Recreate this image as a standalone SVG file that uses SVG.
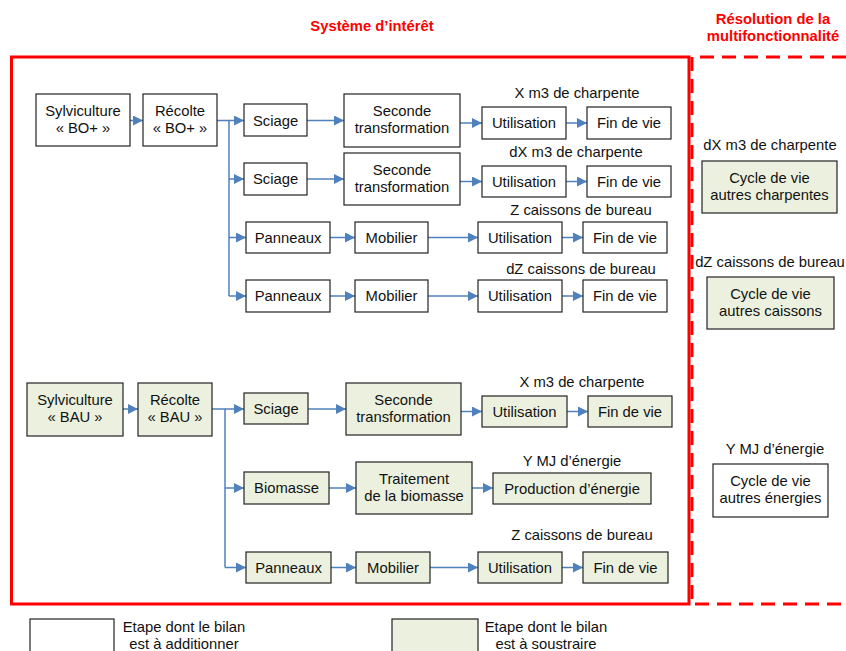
<svg xmlns="http://www.w3.org/2000/svg" width="846" height="651" viewBox="0 0 846 651">
<defs>
<marker id="ah" viewBox="0 0 10 10" refX="10" refY="5" markerWidth="10" markerHeight="10" markerUnits="userSpaceOnUse" orient="auto">
<path d="M0,0 L10,5 L0,10 z" fill="#4F81BD"/>
</marker>
</defs>
<style>
text{font-family:"Liberation Sans",Arial,sans-serif;font-size:14.8px;fill:#111;text-anchor:middle}
.t{font-weight:bold;fill:#FF0000}
.b{fill:#fff;stroke:#222;stroke-width:1.2}
.g{fill:#EBF1DE;stroke:#222;stroke-width:1.2}
.c{fill:none;stroke:#4F81BD;stroke-width:1.5}
.a{fill:none;stroke:#4F81BD;stroke-width:1.5;marker-end:url(#ah)}
</style>
<rect width="846" height="651" fill="#fff"/>
<g id="frames">
<rect x="11.5" y="57" width="677.5" height="547" fill="none" stroke="#FF0000" stroke-width="3"/>
<path d="M846,57 H692 V604 H846" fill="none" stroke="#FF0000" stroke-width="3" stroke-dasharray="14 8"/>
<text class="t" x="372" y="31">Système d’intérêt</text>
<text class="t" x="773" y="23.5">Résolution de la</text>
<text class="t" x="773" y="41">multifonctionnalité</text>
</g>
<g id="connectors">
<path class="a" d="M130,120.5 H143"/>
<path class="c" d="M217,120.5 H229 V296"/>
<path class="a" d="M229,120.5 H244"/>
<path class="a" d="M229,179 H244"/>
<path class="a" d="M229,237.5 H246"/>
<path class="a" d="M229,296 H246"/>
<path class="a" d="M307,120.5 H344"/>
<path class="a" d="M460,123 H482"/>
<path class="a" d="M566,123 H587"/>
<path class="a" d="M307,179 H344"/>
<path class="a" d="M460,181.5 H482"/>
<path class="a" d="M566,181.5 H587"/>
<path class="a" d="M330,237.5 H355"/>
<path class="a" d="M428,237.5 H478"/>
<path class="a" d="M562,237.5 H583"/>
<path class="a" d="M330,296 H355"/>
<path class="a" d="M428,296 H478"/>
<path class="a" d="M562,296 H583"/>
<path class="a" d="M123,409 H138"/>
<path class="c" d="M212,409 H225 V567.5"/>
<path class="a" d="M225,409 H244"/>
<path class="a" d="M225,488 H244"/>
<path class="a" d="M225,567.5 H246"/>
<path class="a" d="M308,409 H346"/>
<path class="a" d="M461,411.5 H482"/>
<path class="a" d="M567,411.5 H588"/>
<path class="a" d="M329,488 H356"/>
<path class="a" d="M472,488 H493"/>
<path class="a" d="M331,567.5 H356"/>
<path class="a" d="M430,567.5 H478"/>
<path class="a" d="M562,567.5 H583"/>
</g>
<g id="n-sylv-bo"><rect class="b" x="36" y="94" width="94" height="52"/><text x="83" y="116">Sylviculture</text><text x="83" y="133">« BO+ »</text></g>
<g id="n-rec-bo"><rect class="b" x="143" y="94" width="74" height="52"/><text x="180" y="116">Récolte</text><text x="180" y="133">« BO+ »</text></g>
<g id="n-sci1"><rect class="b" x="244" y="104" width="63" height="32"/><text x="275.5" y="125.5">Sciage</text></g>
<g id="n-sec1"><rect class="b" x="344" y="94" width="116" height="53"/><text x="402" y="116">Seconde</text><text x="402" y="133">transformation</text></g>
<g id="n-uti1"><text x="577" y="98">X m3 de charpente</text><rect class="b" x="482" y="107" width="84" height="32"/><text x="524" y="128">Utilisation</text></g>
<g id="n-fin1"><rect class="b" x="587" y="107" width="84" height="32"/><text x="629" y="128">Fin de vie</text></g>
<g id="n-sci2"><rect class="b" x="244" y="163" width="63" height="32"/><text x="275.5" y="184">Sciage</text></g>
<g id="n-sec2"><rect class="b" x="344" y="153" width="116" height="52"/><text x="402" y="175">Seconde</text><text x="402" y="192">transformation</text></g>
<g id="n-uti2"><text x="576" y="157">dX m3 de charpente</text><rect class="b" x="482" y="166" width="84" height="31"/><text x="524" y="186.5">Utilisation</text></g>
<g id="n-fin2"><rect class="b" x="587" y="166" width="84" height="31"/><text x="629" y="186.5">Fin de vie</text></g>
<g id="n-pan1"><rect class="b" x="246" y="222" width="84" height="31"/><text x="288" y="242.5">Panneaux</text></g>
<g id="n-mob1"><rect class="b" x="355" y="222" width="73" height="31"/><text x="391.5" y="242.5">Mobilier</text></g>
<g id="n-uti3"><text x="581" y="215">Z caissons de bureau</text><rect class="b" x="478" y="222" width="84" height="31"/><text x="520" y="242.5">Utilisation</text></g>
<g id="n-fin3"><rect class="b" x="583" y="222" width="84" height="31"/><text x="625" y="242.5">Fin de vie</text></g>
<g id="n-pan2"><rect class="b" x="246" y="280" width="84" height="32"/><text x="288" y="301">Panneaux</text></g>
<g id="n-mob2"><rect class="b" x="355" y="280" width="73" height="32"/><text x="391.5" y="301">Mobilier</text></g>
<g id="n-uti4"><text x="581" y="274">dZ caissons de bureau</text><rect class="b" x="478" y="280" width="84" height="32"/><text x="520" y="301">Utilisation</text></g>
<g id="n-fin4"><rect class="b" x="583" y="280" width="84" height="32"/><text x="625" y="301">Fin de vie</text></g>
<g id="n-cv-charp"><text x="770" y="150">dX m3 de charpente</text><rect class="g" x="702" y="161" width="135" height="52"/><text x="769.5" y="183">Cycle de vie</text><text x="769.5" y="200">autres charpentes</text></g>
<g id="n-cv-cais"><text x="770" y="267">dZ caissons de bureau</text><rect class="g" x="707" y="277" width="127" height="52"/><text x="770.5" y="299">Cycle de vie</text><text x="770.5" y="316">autres caissons</text></g>
<g id="n-cv-ener"><text x="775" y="454">Y MJ d’énergie</text><rect class="b" x="713" y="464" width="115" height="53"/><text x="770.5" y="486">Cycle de vie</text><text x="770.5" y="503">autres énergies</text></g>
<g id="n-sylv-bau"><rect class="g" x="27" y="383" width="96" height="53"/><text x="75" y="405">Sylviculture</text><text x="75" y="422">« BAU »</text></g>
<g id="n-rec-bau"><rect class="g" x="138" y="383" width="74" height="53"/><text x="175" y="405">Récolte</text><text x="175" y="422">« BAU »</text></g>
<g id="n-sci3"><rect class="g" x="244" y="393" width="64" height="31"/><text x="276" y="413.5">Sciage</text></g>
<g id="n-sec3"><rect class="g" x="346" y="383" width="115" height="52"/><text x="403.5" y="405">Seconde</text><text x="403.5" y="422">transformation</text></g>
<g id="n-uti5"><text x="582" y="387">X m3 de charpente</text><rect class="g" x="482" y="396" width="85" height="31"/><text x="524.5" y="416.5">Utilisation</text></g>
<g id="n-fin5"><rect class="g" x="588" y="396" width="84" height="31"/><text x="630" y="416.5">Fin de vie</text></g>
<g id="n-bio"><rect class="g" x="244" y="472" width="85" height="32"/><text x="286.5" y="493">Biomasse</text></g>
<g id="n-trait"><rect class="g" x="356" y="462" width="116" height="52"/><text x="414" y="484">Traitement</text><text x="414" y="501">de la biomasse</text></g>
<g id="n-prod"><text x="572" y="466">Y MJ d’énergie</text><rect class="g" x="493" y="473" width="158" height="31"/><text x="572" y="493.5">Production d’énergie</text></g>
<g id="n-pan3"><rect class="g" x="246" y="552" width="85" height="31"/><text x="288.5" y="572.5">Panneaux</text></g>
<g id="n-mob3"><rect class="g" x="356" y="552" width="74" height="31"/><text x="393" y="572.5">Mobilier</text></g>
<g id="n-uti6"><text x="582" y="540">Z caissons de bureau</text><rect class="g" x="478" y="552" width="84" height="31"/><text x="520" y="572.5">Utilisation</text></g>
<g id="n-fin6"><rect class="g" x="583" y="552" width="85" height="31"/><text x="625.5" y="572.5">Fin de vie</text></g>
<g id="legend-add"><rect class="b" x="30" y="619" width="84" height="40"/><text x="184" y="632">Etape dont le bilan</text><text x="184" y="649">est à additionner</text></g>
<g id="legend-sub"><rect class="g" x="392" y="619" width="86" height="40"/><text x="546" y="632">Etape dont le bilan</text><text x="546" y="649">est à soustraire</text></g>
</svg>
